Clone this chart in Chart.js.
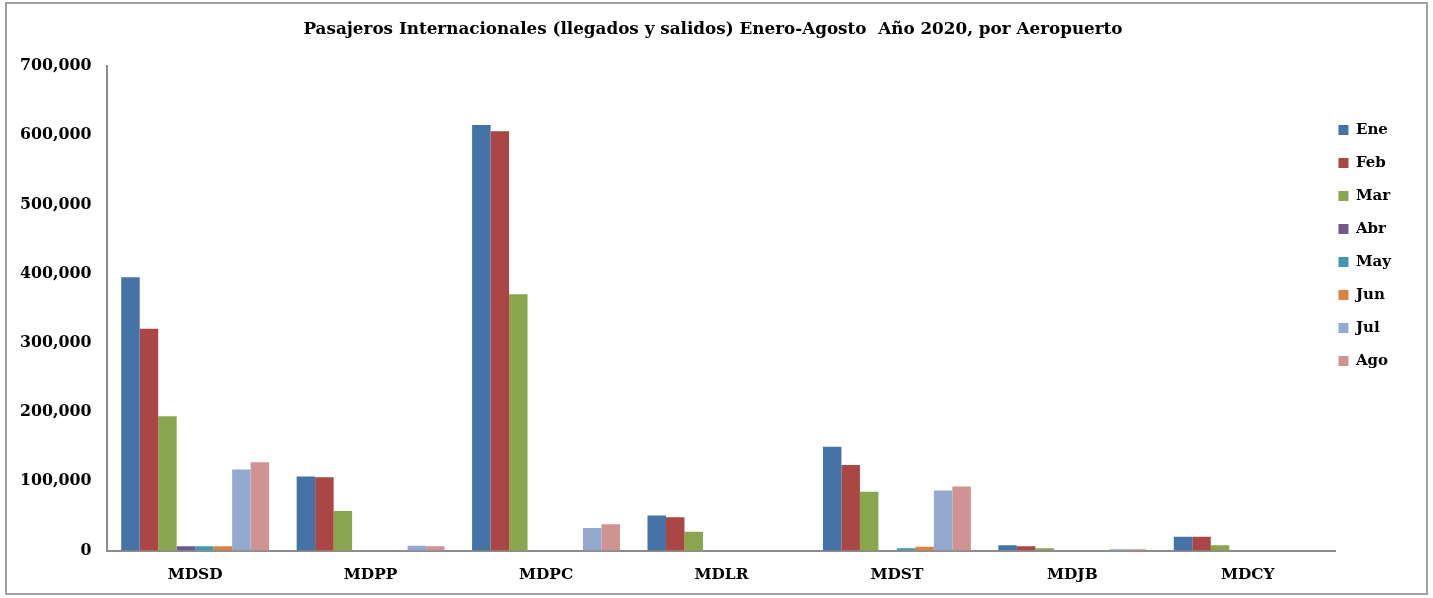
<!DOCTYPE html>
<html>
<head>
<meta charset="utf-8">
<script src="https://cdn.jsdelivr.net/npm/chart.js@4.4.1/dist/chart.umd.min.js"></script>
<style>
  html, body { margin: 0; padding: 0; background: #fff; }
  #frame {
    position: absolute; left: 5px; top: 2px; width: 1423px; height: 593px;
    box-sizing: border-box; border: 2px solid #a0a0a0; background: #fff;
  }
  #frame canvas { display: block; }
</style>
</head>
<body>
<div id="frame"><canvas id="chart"></canvas></div>
<script>
// airports along the x axis
const airports = ['MDSD', 'MDPP', 'MDPC', 'MDLR', 'MDST', 'MDJB', 'MDCY']
const months = ['Ene', 'Feb', 'Mar', 'Abr', 'May', 'Jun', 'Jul', 'Ago']

// passengers per month, one value per airport
const ene = [395000, 106800, 615000, 50700, 150000, 7600, 20000]
const feb = [320500, 105900, 606000, 48000, 123500, 6000, 20000]
const mar = [194000, 57000, 370500, 27000, 84800, 3300, 7500]
const abr = [6000, 0, 0, 0, 0, 0, 0]
const may = [6000, 0, 0, 0, 3300, 0, 0]
const jun = [6000, 0, 0, 0, 5300, 0, 0]
const jul = [117000, 7000, 32500, 0, 86700, 2000, 0]
const ago = [127500, 6200, 38000, 0, 92400, 2000, 0]

const yTicks = [0, 100000, 200000, 300000, 400000, 500000, 600000, 700000]

const colors = ['#4572A7', '#AA4643', '#89A54E', '#71588F', '#4198AF', '#DB843D', '#93A9CF', '#D19392']
const series = [ene, feb, mar, abr, may, jun, jul, ago]

const font = 'DejaVu Serif'

// pull the legend a bit closer to the plot, like the original
const legendNudge = {
  id: 'legendNudge',
  afterLayout(chart) {
    chart.legend.left -= 15
    chart.legend.right -= 15
  }
}

new Chart(document.getElementById('chart').getContext('2d'), {
  type: 'bar',
  data: {
    labels: airports,
    datasets: series.map((values, i) => ({
      label: months[i],
      data: values,
      backgroundColor: colors[i],
      borderWidth: 0,
      barPercentage: 1,
      categoryPercentage: 0.843
    }))
  },
  options: {
    responsive: true,
    maintainAspectRatio: false,
    animation: false,
    layout: { padding: { left: 3, right: 10, top: 0, bottom: 0 } },
    scales: {
      x: {
        grid: { display: false, tickLength: 6 },
        border: { display: true, color: '#8c8c8c', width: 2 },
        ticks: {
          color: '#000',
          padding: 9,
          font: { family: font, size: 15.4, weight: 'bold' }
        }
      },
      y: {
        min: 0,
        max: 700000,
        afterBuildTicks: (axis) => { axis.ticks = yTicks.map(v => ({ value: v })) },
        grid: { display: false, tickLength: 6 },
        border: { display: true, color: '#8c8c8c', width: 2 },
        ticks: {
          color: '#000',
          padding: 10,
          font: { family: font, size: 15.8, weight: 'bold' },
          callback: (v) => v.toLocaleString('en-US')
        }
      }
    },
    plugins: {
      title: {
        display: true,
        text: 'Pasajeros Internacionales (llegados y salidos) Enero-Agosto  Año 2020, por Aeropuerto',
        color: '#000',
        font: { family: font, size: 16.8, weight: 'bold' },
        padding: { top: 16, bottom: 26 }
      },
      legend: {
        position: 'right',
        align: 'start',
        title: { display: true, text: '', padding: 43 },
        labels: {
          color: '#000',
          boxWidth: 10,
          boxHeight: 10,
          padding: 18,
          font: { family: font, size: 15, weight: 'bold' }
        }
      },
      tooltip: { enabled: false }
    }
  },
  plugins: [legendNudge]
});
</script>
</body>
</html>
